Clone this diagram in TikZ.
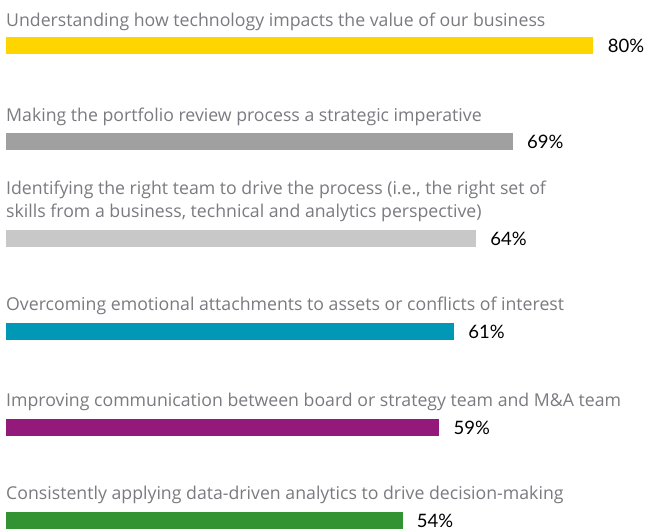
\documentclass[tikz,border=0pt]{standalone}
\usepackage{fontspec}
\setmainfont{Lato}
\newfontfamily\qfont{Open Sans}
\usetikzlibrary{positioning}

\definecolor{barYellow}{HTML}{FFD500}
\definecolor{barGray}{HTML}{A0A0A0}
\definecolor{barLight}{HTML}{C8C8C8}
\definecolor{barTeal}{HTML}{0098B5}
\definecolor{barPurple}{HTML}{93197B}
\definecolor{barGreen}{HTML}{339232}
\definecolor{qGray}{HTML}{7A7A80}

\tikzset{
  question/.style={anchor=base west, inner sep=0pt, text=qGray, align=left,
    font=\qfont\fontsize{17.7}{22.5}\selectfont},
  bar/.style={anchor=north west, inner sep=0pt, minimum height=16.5pt,
    minimum width=#1*7.34pt},
  share/.style={anchor=west, inner sep=0pt,
    font=\fontsize{18.5}{20}\selectfont}
}

\begin{document}
\begin{tikzpicture}[x=1pt, y=-1pt]
\useasboundingbox (0,0) rectangle (659,530);

% Technology
\node[question] (q1) at (6,26) {Understanding how technology impacts the value of our business};
\node[bar=80, fill=barYellow] (bar1) at (6,37) {};
\node[share, right=14pt of bar1] (p1) {80\%};

% Portfolio review
\node[question] (q2) at (6,121) {Making the portfolio review process a strategic imperative};
\node[bar=69, fill=barGray] (bar2) at (6,133) {};
\node[share, right=14pt of bar2] (p2) {69\%};

% Right team (base is on the last line)
\node[question] (q3) at (6,217) {Identifying the right team to drive the process (i.e., the right set of\\skills from a business, technical and analytics perspective)};
\node[bar=64, fill=barLight] (bar3) at (6,230) {};
\node[share, right=14pt of bar3] (p3) {64\%};

% Emotional attachments
\node[question] (q4) at (6,310) {Overcoming emotional attachments to assets or conflicts of interest};
\node[bar=61, fill=barTeal] (bar4) at (6,323) {};
\node[share, right=14pt of bar4] (p4) {61\%};

% Communication
\node[question] (q5) at (6,406) {Improving communication between board or strategy team and M\&A team};
\node[bar=59, fill=barPurple] (bar5) at (6,419) {};
\node[share, right=14pt of bar5] (p5) {59\%};

% Analytics
\node[question] (q6) at (6,499) {Consistently applying data-driven analytics to drive decision-making};
\node[bar=54, fill=barGreen] (bar6) at (6,512) {};
\node[share, right=14pt of bar6] (p6) {54\%};

\end{tikzpicture}
\end{document}
